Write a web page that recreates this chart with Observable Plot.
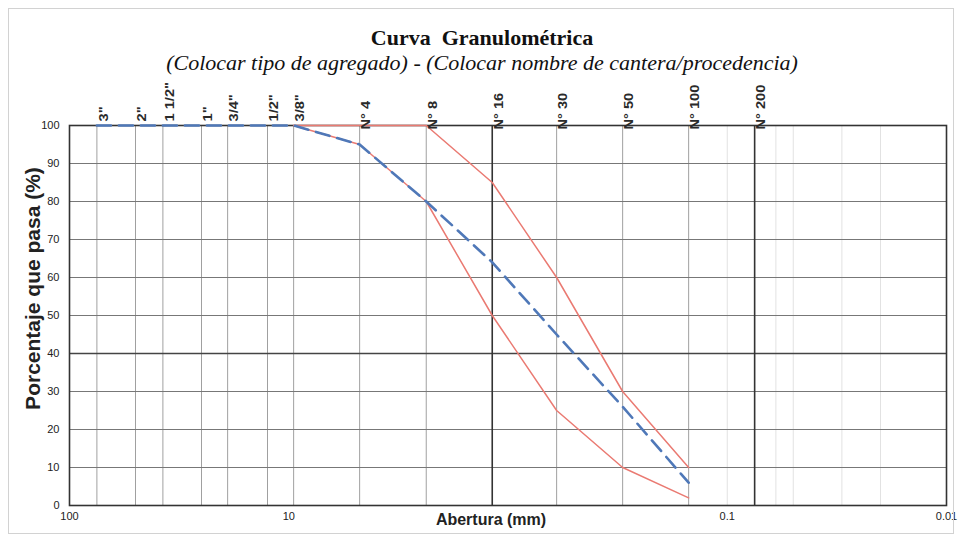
<!DOCTYPE html>
<html><head><meta charset="utf-8">
<script src="https://cdn.jsdelivr.net/npm/d3@7"></script>
<script src="https://cdn.jsdelivr.net/npm/@observablehq/plot@0.6"></script>
<style>
body{margin:0;background:#fff;}
#wrap{position:relative;width:964px;height:543px;overflow:hidden;background:#fff;}
#border{position:absolute;left:8px;top:8px;width:946px;height:526px;border:1px solid #d2d2d2;box-sizing:border-box;pointer-events:none;}
#head{height:72px;position:relative;}
#title{position:absolute;left:0;width:964px;top:26px;text-align:center;font-family:"Liberation Serif",serif;font-weight:bold;font-size:22px;line-height:24px;color:#111;white-space:pre;}
#subtitle{position:absolute;left:0;width:964px;top:50px;text-align:center;font-family:"Liberation Serif",serif;font-style:italic;font-size:22px;line-height:25px;color:#111;}
svg{display:block;}
</style></head>
<body>
<div id="wrap">
<div id="head"><div id="title">Curva  Granulométrica</div><div id="subtitle">(Colocar tipo de agregado) - (Colocar nombre de cantera/procedencia)</div></div>
<div id="chart"></div>
<div id="border"></div>
</div>
<script>
const sieveLabels = ['3"','2"','1 1/2"','1"','3/4"','1/2"','3/8"','N° 4','N° 8','N° 16','N° 30','N° 50','N° 100','N° 200'];
const sieveSizes = [75, 50, 37.5, 25, 19, 12.5, 9.5, 4.75, 2.36, 1.18, 0.6, 0.3, 0.15, 0.075];
const limitSizes = [9.5, 4.75, 2.36, 1.18, 0.6, 0.3, 0.15];
const upperLimit = [100, 100, 100, 85, 60, 30, 10];
const lowerLimit = [100, 95, 80, 50, 25, 10, 2];
const sampleSizes = [75, 50, 37.5, 25, 19, 12.5, 9.5, 4.75, 2.36, 1.18, 0.6, 0.3, 0.15];
const samplePass = [100, 100, 100, 100, 100, 100, 100, 95, 80, 64, 45, 26, 6];
const bottomTicks = [100, 10, 0.1, 0.01];
const yTicks = [0, 10, 20, 30, 40, 50, 60, 70, 80, 90, 100];
const minorGrid = [0.1, 0.06, 0.05, 0.03, 0.02];
const darkSieves = [1.18, 0.075];

const upper = limitSizes.map((s, i) => ({s, p: upperLimit[i]}));
const lower = limitSizes.map((s, i) => ({s, p: lowerLimit[i]}));
const sample = sampleSizes.map((s, i) => ({s, p: samplePass[i]}));
const sieves = sieveSizes.map((s, i) => ({s, label: sieveLabels[i]}));
const inchSieves = sieves.filter(d => !d.label.startsWith("N°"));
const numSieves = sieves.filter(d => d.label.startsWith("N°"));

const sieveText = {x: "s", text: "label", frameAnchor: "top", rotate: -90, textAnchor: "start", lineAnchor: "middle", dx: 7, fontSize: 12, fontWeight: "bold", fill: "#2a2a2a", ariaDescription: "sieve-labels"};

const chart = Plot.plot({
  width: 964,
  height: 471,
  marginTop: 53,
  marginBottom: 38,
  marginLeft: 69,
  marginRight: 18,
  style: {fontFamily: "'Liberation Sans', Arial, sans-serif", background: "#fff", color: "#222"},
  x: {type: "log", domain: [100, 0.01]},
  y: {domain: [0, 100]},
  marks: [
    Plot.ruleX(minorGrid, {stroke: "#e2e2e2", strokeWidth: 1}),
    Plot.ruleX(sieveSizes.filter(d => !darkSieves.includes(d)), {stroke: "#a0a0a0", strokeWidth: 1}),
    Plot.ruleY(yTicks.filter(d => d > 0 && d < 100 && d !== 40), {stroke: "#777", strokeWidth: 1}),
    Plot.ruleY([40], {stroke: "#444", strokeWidth: 1.3}),
    Plot.ruleX(darkSieves, {stroke: "#333", strokeWidth: 1.6}),
    Plot.frame({stroke: "#333", strokeWidth: 1.6}),
    Plot.line(upper, {x: "s", y: "p", stroke: "#ea7a72", strokeWidth: 1.5}),
    Plot.line(lower, {x: "s", y: "p", stroke: "#ea7a72", strokeWidth: 1.5}),
    Plot.line(sample, {x: "s", y: "p", stroke: "#4f78b8", strokeWidth: 2.6, strokeDasharray: "14,8"}),
    Plot.text(inchSieves, {...sieveText, dy: -4}),
    Plot.text(numSieves, {...sieveText, dy: 4}),
    Plot.axisY(yTicks, {tickSize: 0, tickPadding: 10, fontSize: 11, label: null}),
    Plot.axisX(bottomTicks, {anchor: "bottom", tickSize: 0, tickPadding: 7, fontSize: 11, label: null, tickFormat: d => String(d)}),
    Plot.text(["Porcentaje que pasa (%)"], {frameAnchor: "left", rotate: -90, textAnchor: "middle", lineAnchor: "middle", dx: -36, dy: -27, fontSize: 21, fontWeight: "bold", fill: "#222"}),
    Plot.text(["Abertura (mm)"], {frameAnchor: "bottom", dx: -17, dy: 19, fontSize: 16, fontWeight: "bold", fill: "#222"})
  ]
});
d3.select(chart).selectAll('[aria-description="sieve-labels"] text').each(function() {
  const t = this.getAttribute("transform") || "";
  this.setAttribute("transform", t + " scale(1.22,1)");
});
document.getElementById("chart").appendChild(chart);
</script>
</body></html>
